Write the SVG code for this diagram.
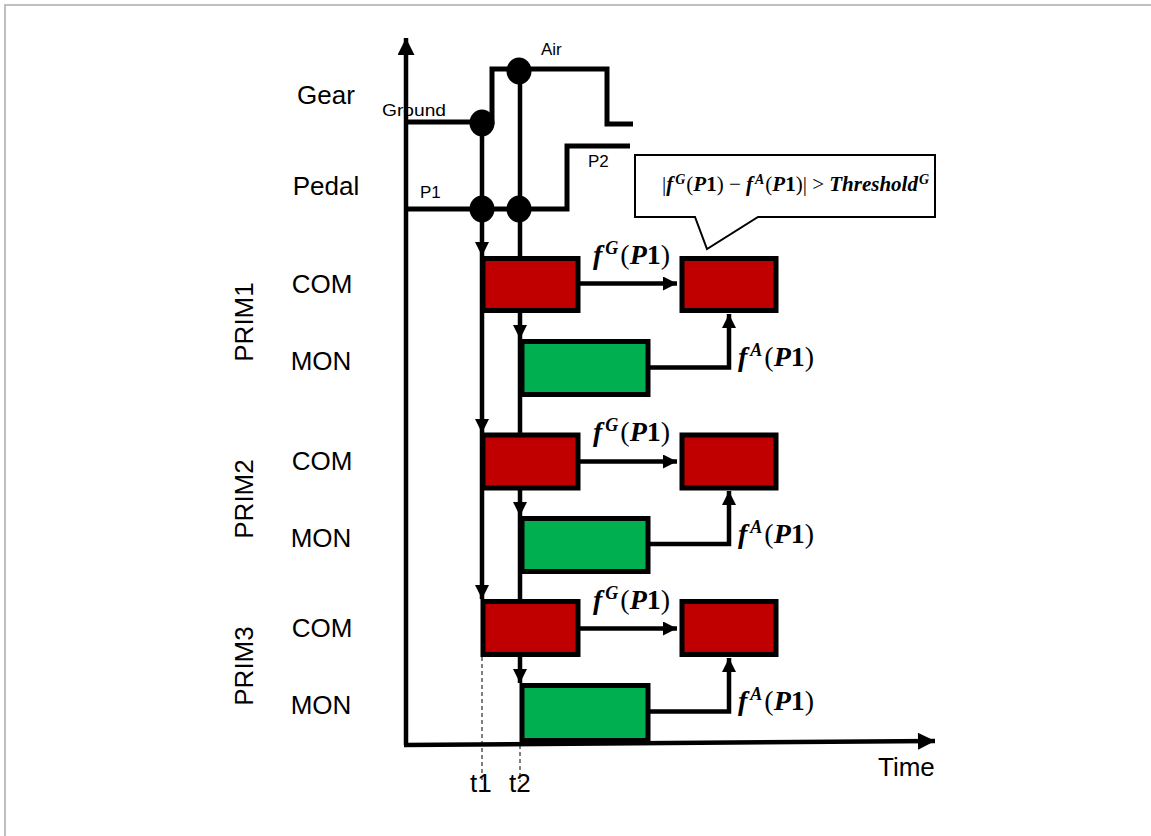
<svg xmlns="http://www.w3.org/2000/svg" width="1151" height="836" viewBox="0 0 1151 836">
<defs>
<style>
.lbl{font-family:"Liberation Sans",Arial,sans-serif;font-size:26px;fill:#000}
.sm{font-family:"Liberation Sans",Arial,sans-serif;font-size:17px;fill:#000}
.math{font-family:"Liberation Serif","Times New Roman",serif;font-size:28px;fill:#000}
.cm{font-family:"Liberation Serif","Times New Roman",serif;font-size:21px;fill:#000}
.sup{font-size:18px}
.csup{font-size:14px}
.bi{font-weight:bold;font-style:italic}
.b{font-weight:bold}
.sig{fill:none;stroke:#000;stroke-width:5;stroke-linejoin:miter}
.con{fill:none;stroke:#000;stroke-width:4.5}
.com{fill:#C00000;stroke:#000;stroke-width:5}
.mon{fill:#00B050;stroke:#000;stroke-width:5}
.dash{fill:none;stroke:#000;stroke-width:1;stroke-dasharray:4 3}
</style>
<marker id="ah" viewBox="0 0 10 10" refX="10" refY="5" markerWidth="15" markerHeight="14" markerUnits="userSpaceOnUse" orient="auto">
<path d="M0,0 L10,5 L0,10 Z" fill="#000"/>
</marker>
<marker id="ahBig" viewBox="0 0 10 10" refX="10" refY="5" markerWidth="18" markerHeight="17" markerUnits="userSpaceOnUse" orient="auto">
<path d="M0,0 L10,5 L0,10 Z" fill="#000"/>
</marker>
</defs>
<rect x="0" y="0" width="1151" height="836" fill="#fff"/>
<path d="M5,836 V5 H1151" fill="none" stroke="#bfbfbf" stroke-width="2"/>

<g id="axes">
<line x1="406" y1="745" x2="406" y2="38" class="con" stroke-width="5" marker-end="url(#ahBig)"/>
<line x1="404" y1="745" x2="935" y2="741" class="con" stroke-width="5" marker-end="url(#ahBig)"/>
</g>

<g id="signals">
<path class="sig" d="M406,122 H492 V69 H607 V124 H633"/>
<path class="sig" d="M406,209 H567 V146 H630"/>
</g>

<g id="connectors">
<line x1="482" y1="123" x2="482" y2="256" class="con" marker-end="url(#ah)"/>
<line x1="482" y1="256" x2="482" y2="433" class="con" marker-end="url(#ah)"/>
<line x1="482" y1="433" x2="482" y2="599" class="con" marker-end="url(#ah)"/>
<line x1="520" y1="72" x2="520" y2="339" class="con" marker-end="url(#ah)"/>
<line x1="520" y1="339" x2="520" y2="516" class="con" marker-end="url(#ah)"/>
<line x1="520" y1="516" x2="520" y2="683" class="con" marker-end="url(#ah)"/>
<line x1="482" y1="657" x2="482" y2="782" class="dash"/>
<line x1="520" y1="745" x2="520" y2="782" class="dash"/>
<line x1="580" y1="283.5" x2="677" y2="283.5" class="con" marker-end="url(#ah)"/>
<line x1="580" y1="461.5" x2="677" y2="461.5" class="con" marker-end="url(#ah)"/>
<line x1="580" y1="628.5" x2="677" y2="628.5" class="con" marker-end="url(#ah)"/>
<path d="M650,367.5 H729 V314" class="con" marker-end="url(#ah)"/>
<path d="M650,544 H729 V491" class="con" marker-end="url(#ah)"/>
<path d="M650,711.5 H729 V658" class="con" marker-end="url(#ah)"/>
</g>

<g id="dots">
<ellipse cx="482" cy="123" rx="12.5" ry="13.5"/>
<ellipse cx="519" cy="71" rx="12.5" ry="13.5"/>
<ellipse cx="482" cy="209" rx="12.5" ry="13.5"/>
<ellipse cx="519" cy="209" rx="12.5" ry="13.5"/>
</g>

<g id="signal-labels">
<text class="lbl" x="326" y="104" text-anchor="middle">Gear</text>
<text class="lbl" x="326" y="195" text-anchor="middle">Pedal</text>
<text class="sm" x="382" y="116" textLength="64" lengthAdjust="spacingAndGlyphs">Ground</text>
<text class="sm" x="541" y="55">Air</text>
<text class="sm" x="420" y="198">P1</text>
<text class="sm" x="588" y="167">P2</text>
<text class="lbl" x="878" y="776">Time</text>
<text class="lbl" x="470" y="792">t1</text>
<text class="lbl" x="509" y="792">t2</text>
</g>

<g id="prim1">
<text class="lbl" transform="translate(253,322) rotate(-90)" text-anchor="middle">PRIM1</text>
<text class="lbl" x="322" y="293" text-anchor="middle">COM</text>
<text class="lbl" x="321" y="370" text-anchor="middle">MON</text>
<rect id="prim1-com" class="com" x="483" y="258.5" width="95" height="52"/>
<rect id="prim1-check" class="com" x="682" y="258.5" width="94" height="52"/>
<rect id="prim1-mon" class="mon" x="522" y="341.5" width="126" height="53"/>
<text class="math" x="593" y="264"><tspan class="bi">f</tspan><tspan class="bi sup" dx="3" dy="-10">G</tspan><tspan dx="2" dy="10">(</tspan><tspan class="bi">P</tspan><tspan class="b">1</tspan>)</text>
<text class="math" x="738" y="366"><tspan class="bi">f</tspan><tspan class="bi sup" dx="3" dy="-10">A</tspan><tspan dx="2" dy="10">(</tspan><tspan class="bi">P</tspan><tspan class="b">1</tspan>)</text>
</g>

<g id="prim2">
<text class="lbl" transform="translate(253,499) rotate(-90)" text-anchor="middle">PRIM2</text>
<text class="lbl" x="322" y="470" text-anchor="middle">COM</text>
<text class="lbl" x="321" y="547" text-anchor="middle">MON</text>
<rect id="prim2-com" class="com" x="483" y="435" width="95" height="53"/>
<rect id="prim2-check" class="com" x="682" y="435" width="94" height="53"/>
<rect id="prim2-mon" class="mon" x="522" y="518.5" width="126" height="53"/>
<text class="math" x="593" y="441"><tspan class="bi">f</tspan><tspan class="bi sup" dx="3" dy="-10">G</tspan><tspan dx="2" dy="10">(</tspan><tspan class="bi">P</tspan><tspan class="b">1</tspan>)</text>
<text class="math" x="738" y="543"><tspan class="bi">f</tspan><tspan class="bi sup" dx="3" dy="-10">A</tspan><tspan dx="2" dy="10">(</tspan><tspan class="bi">P</tspan><tspan class="b">1</tspan>)</text>
</g>

<g id="prim3">
<text class="lbl" transform="translate(253,666) rotate(-90)" text-anchor="middle">PRIM3</text>
<text class="lbl" x="322" y="637" text-anchor="middle">COM</text>
<text class="lbl" x="321" y="714" text-anchor="middle">MON</text>
<rect id="prim3-com" class="com" x="483" y="601.5" width="95" height="53"/>
<rect id="prim3-check" class="com" x="682" y="601.5" width="94" height="53"/>
<rect id="prim3-mon" class="mon" x="522" y="685.5" width="126" height="55"/>
<text class="math" x="593" y="609"><tspan class="bi">f</tspan><tspan class="bi sup" dx="3" dy="-10">G</tspan><tspan dx="2" dy="10">(</tspan><tspan class="bi">P</tspan><tspan class="b">1</tspan>)</text>
<text class="math" x="738" y="710"><tspan class="bi">f</tspan><tspan class="bi sup" dx="3" dy="-10">A</tspan><tspan dx="2" dy="10">(</tspan><tspan class="bi">P</tspan><tspan class="b">1</tspan>)</text>
</g>

<g id="callout">
<path d="M635,155 H935 V217 H758 L707,249 L695,217 H635 Z" fill="#fff" stroke="#000" stroke-width="2"/>
<text class="cm" x="662" y="191">|<tspan class="bi">f</tspan><tspan class="bi csup" dx="2" dy="-7">G</tspan><tspan dx="1" dy="7">(</tspan><tspan class="bi">P</tspan><tspan class="b">1</tspan>) − <tspan class="bi">f</tspan><tspan class="bi csup" dx="2" dy="-7">A</tspan><tspan dx="1" dy="7">(</tspan><tspan class="bi">P</tspan><tspan class="b">1</tspan>)| &gt; <tspan class="bi">Threshold</tspan><tspan class="bi csup" dx="1" dy="-7">G</tspan></text>
</g>
</svg>
